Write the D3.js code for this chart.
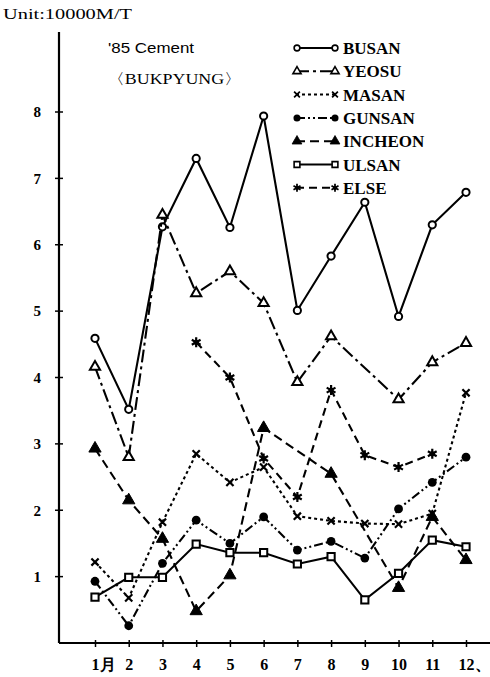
<!DOCTYPE html>
<html><head><meta charset="utf-8">
<script src="https://cdn.jsdelivr.net/npm/d3@7"></script>
<style>body{margin:0;background:#fff}svg{display:block}</style>
</head><body>
<svg id="c" width="490" height="677"></svg>
<script>
const months = [1,2,3,4,5,6,7,8,9,10,11,12];
const monthLabels = ["1月","2","3","4","5","6","7","8","9","10","11","12、"];
const yTicks = [1,2,3,4,5,6,7,8];
const seriesNames = ["BUSAN","YEOSU","MASAN","GUNSAN","INCHEON","ULSAN","ELSE"];
const busan   = [4.59,3.52,6.27,7.30,6.26,7.94,5.01,5.83,6.64,4.92,6.30,6.79];
const yeosu   = [4.16,2.80,6.45,5.27,5.60,5.12,3.93,4.62,null,3.67,4.23,4.52];
const masan   = [1.22,0.68,1.82,2.85,2.42,2.65,1.91,1.84,1.80,1.79,1.95,3.77];
const gunsan  = [0.93,0.26,1.20,1.85,1.50,1.90,1.40,1.53,1.28,2.02,2.42,2.80];
const incheon = [2.93,2.15,1.57,0.48,1.02,3.24,null,2.55,null,0.83,1.90,1.25];
const ulsan   = [0.69,0.99,0.99,1.49,1.36,1.36,1.19,1.30,0.65,1.05,1.55,1.45];
const other   = [null,null,null,4.53,4.00,2.78,2.20,3.81,2.83,2.65,2.85,null];

const allValues = [busan,yeosu,masan,gunsan,incheon,ulsan,other];
const styles = [
  {dash:null, marker:"ocircle"},
  {dash:"13,4,3,4", marker:"otri"},
  {dash:"3,3", marker:"x"},
  {dash:"9,3,2,3,2,3", marker:"fcircle"},
  {dash:"9,5", marker:"ftri"},
  {dash:null, marker:"osquare"},
  {dash:"8,5", marker:"star"}
];

const svg = d3.select("#c");
svg.append("rect").attr("width",490).attr("height",677).attr("fill","#fff");
const x = d3.scaleLinear().domain([1,12]).range([95,466]);
const y = d3.scaleLinear().domain([0,8]).range([643,112]);
const serif = "'Liberation Serif','DejaVu Serif',serif";

// axes
svg.append("line").attr("x1",59).attr("y1",32).attr("x2",59).attr("y2",y(0)).attr("stroke","#000").attr("stroke-width",2.2);
svg.append("line").attr("x1",59).attr("y1",y(0)).attr("x2",490).attr("y2",y(0)).attr("stroke","#000").attr("stroke-width",2.2);
const yAxis = d3.axisLeft(y).tickValues(yTicks).tickSize(0).tickPadding(18).tickFormat(d3.format("d"));
const gy = svg.append("g").attr("transform","translate(59,0)").call(yAxis);
gy.select(".domain").remove();
gy.selectAll("text").attr("font-family",serif).attr("font-weight","bold").attr("font-size",15).attr("fill","#000");
svg.selectAll(".ytk").data(yTicks).enter().append("line").attr("class","ytk")
  .attr("x1",55).attr("x2",63).attr("y1",d=>y(d)).attr("y2",d=>y(d)).attr("stroke","#000").attr("stroke-width",1.5);
const xAxis = d3.axisBottom(x).tickValues(months).tickSize(4).tickPadding(12).tickFormat((d,i)=>monthLabels[i]);
const gx = svg.append("g").attr("transform",`translate(0,${y(0)})`).call(xAxis);
gx.select(".domain").remove();
gx.selectAll("line").attr("stroke","#000").attr("stroke-width",1.5).attr("y1",-3);
gx.selectAll("text").attr("font-family",serif).attr("font-weight","bold").attr("font-size",16).attr("fill","#000")
  .attr("text-anchor",(d,i)=> (i===0||i===11) ? "start" : "middle")
  .attr("dx",(d,i)=> (i===0||i===11) ? (i===0?-4:-8) : 0);

// texts
svg.append("text").attr("x",3).attr("y",19).attr("font-family",serif).attr("font-size",15)
  .attr("textLength",129).attr("lengthAdjust","spacingAndGlyphs").text("Unit:10000M/T");
svg.append("text").attr("x",108).attr("y",53).attr("font-family","'Liberation Sans',Arial,sans-serif").attr("font-size",14)
  .attr("textLength",86).attr("lengthAdjust","spacingAndGlyphs").text("'85 Cement");
svg.append("text").attr("x",107).attr("y",84).attr("font-family",serif).attr("font-size",15)
  .attr("textLength",135).attr("lengthAdjust","spacingAndGlyphs").text("〈BUKPYUNG〉");

function marker(g, type, cx, cy, k){
  k = k || 1;
  const s = g.append("g").attr("transform",`translate(${cx},${cy}) scale(${k})`);
  if(type==="ocircle") s.append("circle").attr("r",3.6).attr("fill","#fff").attr("stroke","#000").attr("stroke-width",2);
  else if(type==="fcircle") s.append("circle").attr("r",4.4).attr("fill","#000");
  else if(type==="otri") s.append("path").attr("d",d3.symbol(d3.symbolTriangle,45)()).attr("fill","#fff").attr("stroke","#000").attr("stroke-width",2);
  else if(type==="ftri") s.append("path").attr("d",d3.symbol(d3.symbolTriangle,65)()).attr("fill","#000").attr("stroke","#000").attr("stroke-width",1);
  else if(type==="osquare") s.append("path").attr("d",d3.symbol(d3.symbolSquare,52)()).attr("fill","#fff").attr("stroke","#000").attr("stroke-width",2);
  else if(type==="x") s.append("path").attr("d","M-3.6,-3.6L3.6,3.6M-3.6,3.6L3.6,-3.6").attr("stroke","#000").attr("stroke-width",2.2);
  else if(type==="star"){
    s.append("path").attr("d","M0,-5L0,5M-4.4,-2.5L4.4,2.5M-4.4,2.5L4.4,-2.5").attr("stroke","#000").attr("stroke-width",2.2);
    s.append("circle").attr("r",2.6).attr("fill","#000");
  }
}

const line = d3.line().x(d=>x(d.m)).y(d=>y(d.v));
allValues.forEach((vals,i)=>{
  const pts = months.map((m,j)=>({m:m,v:vals[j]})).filter(d=>d.v!==null);
  const g = svg.append("g");
  g.append("path").datum(pts).attr("d",line).attr("fill","none").attr("stroke","#000")
    .attr("stroke-width",2.1).attr("stroke-dasharray",styles[i].dash);
  pts.forEach(d=>marker(g, styles[i].marker, x(d.m), y(d.v)));
});

// legend
const lg = svg.append("g");
seriesNames.forEach((n,i)=>{
  const ly = 48 + i*23.3;
  lg.append("line").attr("x1",296).attr("x2",336).attr("y1",ly).attr("y2",ly).attr("stroke","#000")
    .attr("stroke-width",2).attr("stroke-dasharray",styles[i].dash);
  marker(lg, styles[i].marker, 297, ly, 0.8);
  marker(lg, styles[i].marker, 335, ly, 0.8);
  lg.append("text").attr("x",343).attr("y",ly+6).attr("font-family",serif).attr("font-weight","bold")
    .attr("font-size",17).text(n);
});
</script>
</body></html>
